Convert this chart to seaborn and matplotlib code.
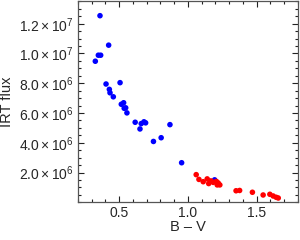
import numpy as np
import pandas as pd
import seaborn as sns
import matplotlib.pyplot as plt
from matplotlib.ticker import FixedLocator, MultipleLocator, FuncFormatter

# blue group
bv_blue = [0.360, 0.423, 0.348, 0.365, 0.326, 0.404, 0.506, 0.428, 0.433, 0.457,
           0.515, 0.532, 0.536, 0.547, 0.556, 0.616, 0.651, 0.660, 0.680, 0.692,
           0.749, 0.805, 0.869, 0.954, 1.194]
flux_blue = [1.254e7, 1.056e7, 9.885e6, 9.885e6, 9.48e6, 7.95e6, 8.04e6, 7.59e6, 7.36e6, 7.09e6,
             6.59e6, 6.69e6, 6.32e6, 6.35e6, 6.01e6, 5.38e6, 4.93e6, 5.29e6, 5.41e6, 5.34e6,
             4.09e6, 4.34e6, 5.22e6, 2.66e6, 1.51e6]

# red group
bv_red = [1.060, 1.080, 1.111, 1.140, 1.151, 1.184, 1.207, 1.220, 1.232, 1.213,
          1.167, 1.350, 1.376, 1.469, 1.547, 1.596, 1.620, 1.642, 1.657]
flux_red = [1.86e6, 1.54e6, 1.385e6, 1.574e6, 1.26e6, 1.34e6, 1.405e6, 1.30e6, 1.17e6, 1.17e6,
            1.44e6, 7.77e5, 7.97e5, 6.76e5, 4.93e5, 5.4e5, 4.26e5, 3.38e5, 2.9e5]

ytick_vals = [2e6, 4e6, 6e6, 8e6, 1e7, 1.2e7]
xtick_vals = [0.5, 1.0, 1.5]

df = pd.DataFrame({
    "bv": bv_blue + bv_red,
    "flux": flux_blue + flux_red,
    "grp": ["blue"] * len(bv_blue) + ["red"] * len(bv_red),
})

sns.set_style("ticks")
plt.rcParams["font.family"] = ["Liberation Sans", "DejaVu Sans"]
plt.rcParams["mathtext.fontset"] = "custom"
plt.rcParams["mathtext.rm"] = "Liberation Sans"
plt.rcParams["mathtext.it"] = "Liberation Sans"

fig = plt.figure(figsize=(3.0, 2.4), dpi=100)
ax = fig.add_axes([0.26, 0.157, 0.733, 0.839])

sns.scatterplot(data=df, x="bv", y="flux", hue="grp",
                palette={"blue": "#0000ff", "red": "#ff0000"},
                s=16, linewidth=0, legend=False, ax=ax)

ax.set_xlim(0.2, 1.8)
ax.set_ylim(0, 1.353e7)


def sci(v, pos):
    e = int(np.floor(np.log10(v)))
    m = v / 10 ** e
    return r"$%.1f\times10^{%d}$" % (m, e)


ax.yaxis.set_major_locator(FixedLocator(ytick_vals))
ax.yaxis.set_major_formatter(FuncFormatter(sci))
ax.yaxis.set_minor_locator(MultipleLocator(5e5))
ax.xaxis.set_major_locator(FixedLocator(xtick_vals))
ax.xaxis.set_minor_locator(MultipleLocator(0.1))

ax.tick_params(which="both", direction="in", top=True, right=True, labelsize=10,
               color="#222222", width=0.8, pad=3)
ax.tick_params(which="major", length=4)
ax.tick_params(which="minor", length=2)
for sp in ax.spines.values():
    sp.set_color("#555555")
    sp.set_linewidth(0.9)

ax.set_xlabel("B – V", fontsize=10.5, labelpad=0)
ax.set_ylabel("IRT flux", fontsize=10.5)
ax.yaxis.set_label_coords(-0.29, 0.5)

fig.savefig("out.png", dpi=100)
